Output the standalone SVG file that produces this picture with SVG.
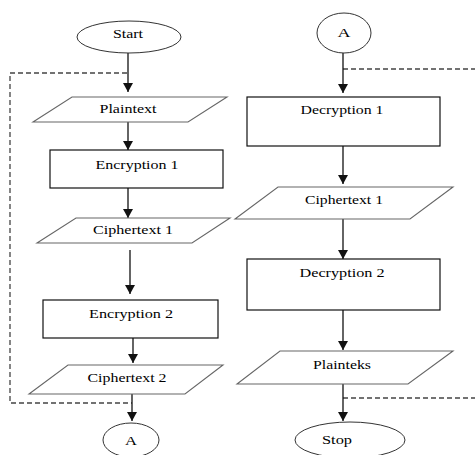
<svg xmlns="http://www.w3.org/2000/svg" width="475" height="455" viewBox="0 0 475 455">
<style>
.t{font-family:"Liberation Serif","Times New Roman",serif;font-size:13px;fill:#000;text-anchor:middle}
.term{fill:#fff;stroke:#333;stroke-width:1}
.box{fill:#fff;stroke:#111;stroke-width:1.2}
.io{fill:#fff;stroke:#666;stroke-width:1.1}
.ln{fill:none;stroke:#111;stroke-width:1.3}
.dash{fill:none;stroke:#444;stroke-width:1.3;stroke-dasharray:5,3}
</style>
<defs>
<marker id="ah" markerWidth="10" markerHeight="10" refX="9" refY="5" orient="auto" markerUnits="userSpaceOnUse">
<path d="M0,0 L9,5 L0,10 Z" fill="#111"/>
</marker>
</defs>
<rect width="475" height="455" fill="#fff"/>
<g id="connectors">
<path class="dash" d="M127,73 H10 V403 H132"/>
<path class="dash" d="M343,69 H475"/>
<path class="dash" d="M343,398 H475"/>
<line class="ln" x1="128" y1="53" x2="128" y2="92" marker-end="url(#ah)"/>
<line class="ln" x1="128" y1="122" x2="128" y2="150" marker-end="url(#ah)"/>
<line class="ln" x1="128" y1="188" x2="128" y2="218" marker-end="url(#ah)"/>
<line class="ln" x1="130" y1="250" x2="130" y2="294" marker-end="url(#ah)"/>
<line class="ln" x1="133" y1="338" x2="133" y2="363" marker-end="url(#ah)"/>
<line class="ln" x1="132" y1="394" x2="132" y2="421" marker-end="url(#ah)"/>
<line class="ln" x1="343" y1="53" x2="343" y2="93" marker-end="url(#ah)"/>
<line class="ln" x1="343" y1="146" x2="343" y2="184" marker-end="url(#ah)"/>
<line class="ln" x1="343" y1="219" x2="343" y2="259" marker-end="url(#ah)"/>
<line class="ln" x1="343" y1="310" x2="343" y2="350" marker-end="url(#ah)"/>
<line class="ln" x1="343" y1="384" x2="343" y2="421" marker-end="url(#ah)"/>
</g>
<g id="start">
<ellipse class="term" cx="129" cy="37" rx="52" ry="16"/>
<text class="t" x="128" y="38" textLength="30" lengthAdjust="spacingAndGlyphs">Start</text>
</g>
<g id="plaintext">
<polygon class="io" points="72,97 227,97 188,122 33,122"/>
<text class="t" x="128" y="113" textLength="57" lengthAdjust="spacingAndGlyphs">Plaintext</text>
</g>
<g id="encryption1">
<rect class="box" x="50" y="150" width="173" height="38"/>
<text class="t" x="137" y="169" textLength="83" lengthAdjust="spacingAndGlyphs">Encryption 1</text>
</g>
<g id="ciphertext1-left">
<polygon class="io" points="76,218 230,218 192,243 37,243"/>
<text class="t" x="133" y="234" textLength="80" lengthAdjust="spacingAndGlyphs">Ciphertext 1</text>
</g>
<g id="encryption2">
<rect class="box" x="43" y="300" width="175" height="38"/>
<text class="t" x="131" y="318" textLength="84" lengthAdjust="spacingAndGlyphs">Encryption 2</text>
</g>
<g id="ciphertext2">
<polygon class="io" points="68,365 223,365 185,394 29,394"/>
<text class="t" x="127" y="382" textLength="79" lengthAdjust="spacingAndGlyphs">Ciphertext 2</text>
</g>
<g id="connector-a-out">
<ellipse class="term" cx="131" cy="440" rx="28" ry="17"/>
<text class="t" x="131" y="445" textLength="12" lengthAdjust="spacingAndGlyphs">A</text>
</g>
<g id="connector-a-in">
<ellipse class="term" cx="344" cy="33" rx="27" ry="20"/>
<text class="t" x="344" y="37" textLength="13" lengthAdjust="spacingAndGlyphs">A</text>
</g>
<g id="decryption1">
<rect class="box" x="247" y="97" width="193" height="49"/>
<text class="t" x="342" y="114" textLength="83" lengthAdjust="spacingAndGlyphs">Decryption 1</text>
</g>
<g id="ciphertext1-right">
<polygon class="io" points="278,187 453,187 410,219 235,219"/>
<text class="t" x="344" y="204" textLength="78" lengthAdjust="spacingAndGlyphs">Ciphertext 1</text>
</g>
<g id="decryption2">
<rect class="box" x="247" y="259" width="193" height="51"/>
<text class="t" x="342" y="277" textLength="85" lengthAdjust="spacingAndGlyphs">Decryption 2</text>
</g>
<g id="plainteks">
<polygon class="io" points="280,351 453,351 408,384 237,384"/>
<text class="t" x="342" y="369" textLength="58" lengthAdjust="spacingAndGlyphs">Plainteks</text>
</g>
<g id="stop">
<ellipse class="term" cx="350" cy="440" rx="55" ry="18"/>
<text class="t" x="337" y="444" textLength="30" lengthAdjust="spacingAndGlyphs">Stop</text>
</g>
</svg>
